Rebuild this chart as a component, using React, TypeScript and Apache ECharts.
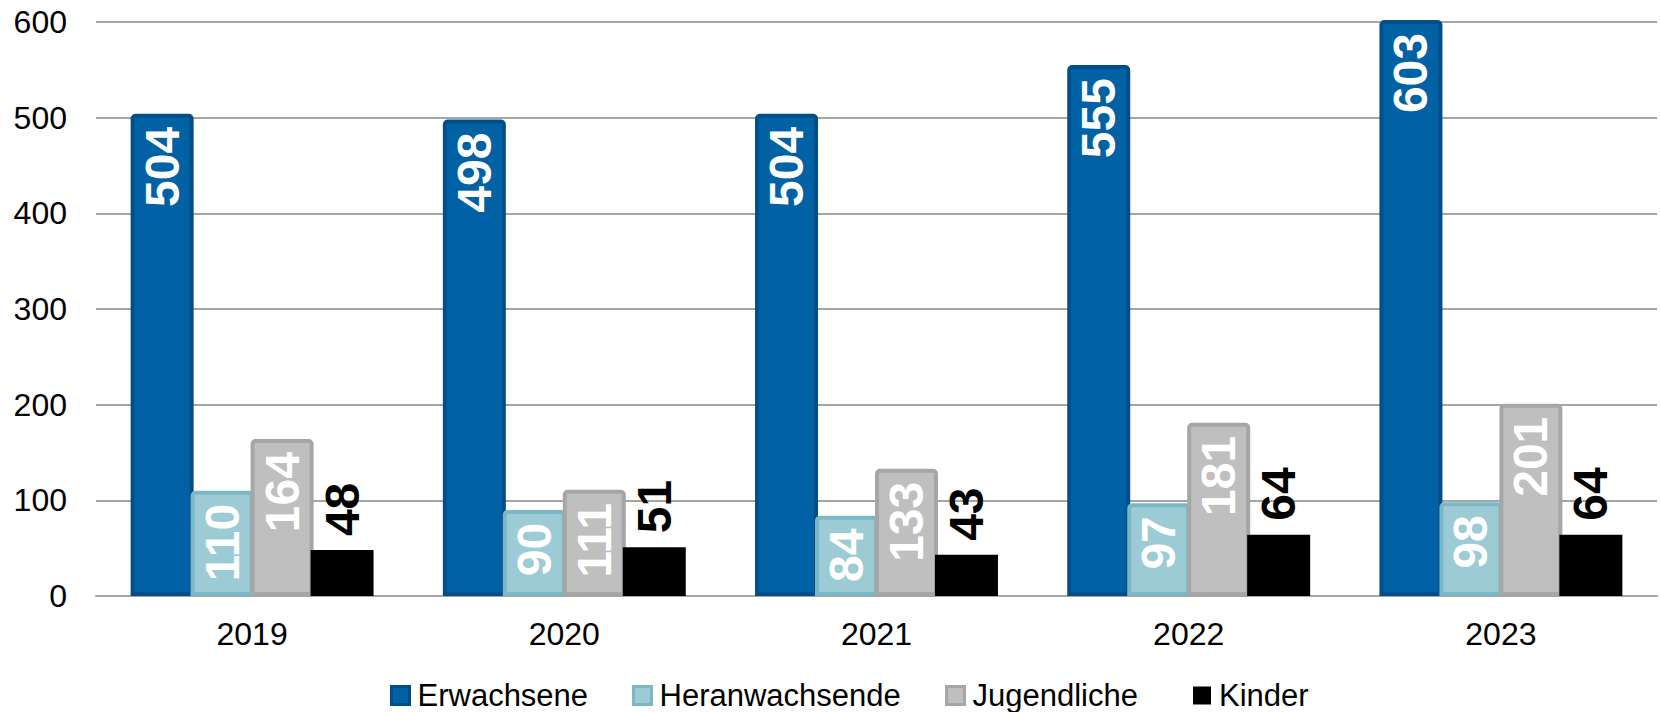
import React, { useEffect, useRef } from "react";
import * as echarts from "echarts";

const years = ["2019", "2020", "2021", "2022", "2023"];
const erwachsene = [504, 498, 504, 555, 603];
const heranwachsende = [110, 90, 84, 97, 98];
const jugendliche = [164, 111, 133, 181, 201];
const kinder = [48, 51, 43, 64, 64];
const seriesNames = ["Erwachsene", "Heranwachsende", "Jugendliche", "Kinder"];
const yTicks = { min: 0, max: 600, interval: 100 };

const FONT = "'Liberation Sans', Arial, sans-serif";

export default function App() {
  const ref = useRef<HTMLDivElement>(null);
  useEffect(() => {
    if (!ref.current) return;
    const chart = echarts.init(ref.current, undefined, { renderer: "svg" });
    const insideLabel = {
      show: true,
      position: "insideTop",
      rotate: 90,
      align: "right",
      verticalAlign: "middle",
      distance: 13,
      color: "#ffffff",
      fontSize: 48,
      fontWeight: "bold",
      fontFamily: FONT,
    };
    const styles = [
      { color: "#0061a5", borderColor: "#004f8a", borderWidth: 4 },
      { color: "#9ccbd6", borderColor: "#7bb8c6", borderWidth: 4 },
      { color: "#bfbfbf", borderColor: "#a6a6a6", borderWidth: 4 },
      { color: "#000000", borderColor: "#000000", borderWidth: 0 },
    ];
    const datas = [erwachsene, heranwachsende, jugendliche, kinder];
    const legendLefts = [390, 632, 945, 1193];
    chart.setOption({
      animation: false,
      textStyle: { fontFamily: FONT },
      grid: { left: 96, right: 3, top: 22, bottom: 116 },
      legend: seriesNames.map((n, i) => ({
        data: [n],
        left: legendLefts[i],
        top: 680,
        padding: 0,
        itemWidth: 18,
        itemHeight: 18,
        icon: "rect",
        itemStyle: { borderWidth: i < 3 ? 3 : 0 },
        textStyle: { fontSize: 31, color: "#000", fontFamily: FONT, padding: [0, 0, 0, 3] },
      })),
      xAxis: {
        type: "category",
        data: years,
        axisTick: { show: false },
        axisLine: { show: true, lineStyle: { color: "#a6a6a6", width: 2 } },
        axisLabel: { fontSize: 32, color: "#000", margin: 22, fontFamily: FONT },
      },
      yAxis: {
        type: "value",
        min: yTicks.min,
        max: yTicks.max,
        interval: yTicks.interval,
        axisLine: { show: false },
        axisTick: { show: false },
        splitLine: { lineStyle: { color: "#a6a6a6", width: 2 } },
        axisLabel: { fontSize: 32, color: "#000", margin: 29, fontFamily: FONT },
      },
      series: seriesNames.map((n, i) => ({
        name: n,
        type: "bar",
        data: datas[i],
        barWidth: 63,
        barGap: "-4.8%",
        itemStyle: { ...styles[i], borderRadius: i < 3 ? [3, 3, 0, 0] : 0 },
        label:
          i < 3
            ? insideLabel
            : {
                show: true,
                position: "top",
                rotate: 90,
                align: "left",
                verticalAlign: "middle",
                distance: 14,
                color: "#000000",
                fontSize: 48,
                fontWeight: "bold",
                fontFamily: FONT,
              },
      })),
    });
    return () => chart.dispose();
  }, []);
  return (
    <div
      ref={ref}
      style={{ position: "fixed", left: 0, top: 0, width: 1660, height: 712, background: "#fff" }}
    />
  );
}
